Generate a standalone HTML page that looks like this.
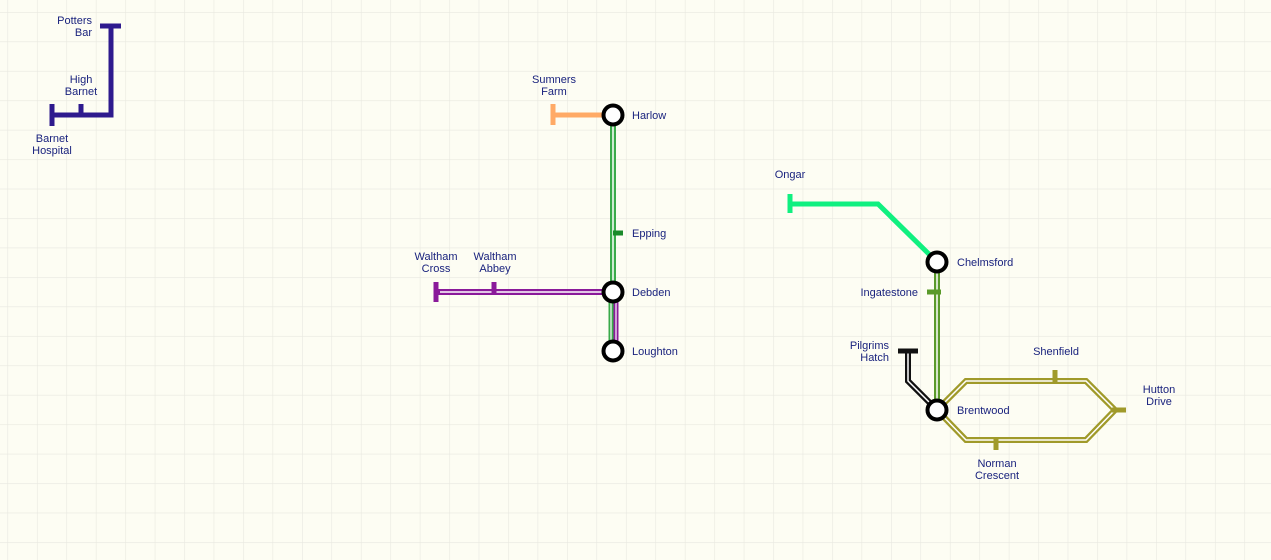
<!DOCTYPE html>
<html><head><meta charset="utf-8"><style>
html,body{margin:0;padding:0;background:#fdfdf3;}
svg{display:block;}
text{font-family:"Liberation Sans",sans-serif;font-size:11px;fill:#1a237e;}
</style></head><body>
<svg width="1271" height="560" viewBox="0 0 1271 560" xmlns="http://www.w3.org/2000/svg">
<defs>
<pattern id="g" x="7.5" y="12" width="29.45" height="29.45" patternUnits="userSpaceOnUse">
<path d="M0 0H29.45M0 0V29.45" stroke="#e8e8e0" stroke-width="1.2" fill="none"/>
</pattern>
</defs>
<rect width="1271" height="560" fill="#fdfdf3"/>
<rect width="1271" height="560" fill="url(#g)"/>

<!-- Barnet -->
<g stroke="#2e1a8e" stroke-width="5" fill="none" stroke-linecap="butt">
<path d="M52 115H111V26"/>
<path d="M52 104V126M81 104V115M100 26H121"/>
</g>
<text x="92" y="24" text-anchor="end">Potters</text>
<text x="92" y="36" text-anchor="end">Bar</text>
<text x="81" y="83" text-anchor="middle">High</text>
<text x="81" y="95" text-anchor="middle">Barnet</text>
<text x="52" y="142" text-anchor="middle">Barnet</text>
<text x="52" y="154" text-anchor="middle">Hospital</text>

<!-- Sumners Farm -->
<path d="M553 115H613M553 104V125" stroke="#ffaa66" stroke-width="5" fill="none"/>
<text x="554" y="83" text-anchor="middle">Sumners</text>
<text x="554" y="95" text-anchor="middle">Farm</text>

<!-- Harlow-Debden green -->
<path d="M613 115V292" stroke="#3aaa4a" stroke-width="6" fill="none"/>
<path d="M613 115V292" stroke="#fff" stroke-width="1.5" fill="none"/>
<path d="M611 292V351" stroke="#3aaa4a" stroke-width="5" fill="none"/>
<path d="M611 292V351" stroke="#fff" stroke-width="1.2" fill="none"/>
<path d="M616 292V351" stroke="#8a1a9a" stroke-width="5" fill="none"/>
<path d="M616 292V351" stroke="#fff" stroke-width="1.2" fill="none"/>
<path d="M613 233H623" stroke="#1a8a2a" stroke-width="5"/>

<!-- Waltham -->
<path d="M436 292H613" stroke="#8a1a9a" stroke-width="6" fill="none"/>
<path d="M440 292H613" stroke="#fff" stroke-width="1.5" fill="none"/>
<path d="M436 282V302M494 282V293" stroke="#8a1a9a" stroke-width="5"/>
<text x="436" y="260" text-anchor="middle">Waltham</text>
<text x="436" y="272" text-anchor="middle">Cross</text>
<text x="495" y="260" text-anchor="middle">Waltham</text>
<text x="495" y="272" text-anchor="middle">Abbey</text>

<!-- Ongar -->
<path d="M790 204H878L937 262" stroke="#10f080" stroke-width="5" fill="none"/>
<path d="M790 194V213" stroke="#10f080" stroke-width="5"/>
<text x="790" y="178" text-anchor="middle">Ongar</text>

<!-- Chelmsford-Brentwood -->
<path d="M937 262V410" stroke="#5a9a2a" stroke-width="6" fill="none"/>
<path d="M937 262V410" stroke="#fff" stroke-width="1.5" fill="none"/>
<path d="M927 292H941" stroke="#5a9a2a" stroke-width="5"/>

<!-- Pilgrims Hatch -->
<path d="M908 351V381L937 410" stroke="#111" stroke-width="6" fill="none"/>
<path d="M908 351V381L937 410" stroke="#fff" stroke-width="1.5" fill="none"/>
<path d="M898 351H918" stroke="#111" stroke-width="5"/>

<!-- Brentwood loop -->
<path d="M937 410L966 381H1086L1115 410L1086 440H966Z" stroke="#a09a2a" stroke-width="6" fill="none" stroke-linejoin="miter"/>
<path d="M937 410L966 381H1086L1115 410L1086 440H966Z" stroke="#fff" stroke-width="1.5" fill="none"/>
<path d="M1055 370V383M1112 410H1126M996 438V450" stroke="#a09a2a" stroke-width="5"/>

<!-- stations -->
<g fill="#fff" stroke="#000" stroke-width="4">
<circle cx="613" cy="115" r="9.5"/>
<circle cx="613" cy="292" r="9.5"/>
<circle cx="613" cy="351" r="9.5"/>
<circle cx="937" cy="262" r="9.5"/>
<circle cx="937" cy="410" r="9.5"/>
</g>
<text x="632" y="119">Harlow</text>
<text x="632" y="237">Epping</text>
<text x="632" y="296">Debden</text>
<text x="632" y="355">Loughton</text>
<text x="957" y="266">Chelmsford</text>
<text x="918" y="296" text-anchor="end">Ingatestone</text>
<text x="889" y="349" text-anchor="end">Pilgrims</text>
<text x="889" y="361" text-anchor="end">Hatch</text>
<text x="957" y="414">Brentwood</text>
<text x="1056" y="355" text-anchor="middle">Shenfield</text>
<text x="1159" y="393" text-anchor="middle">Hutton</text>
<text x="1159" y="405" text-anchor="middle">Drive</text>
<text x="997" y="467" text-anchor="middle">Norman</text>
<text x="997" y="479" text-anchor="middle">Crescent</text>
</svg>
</body></html>
